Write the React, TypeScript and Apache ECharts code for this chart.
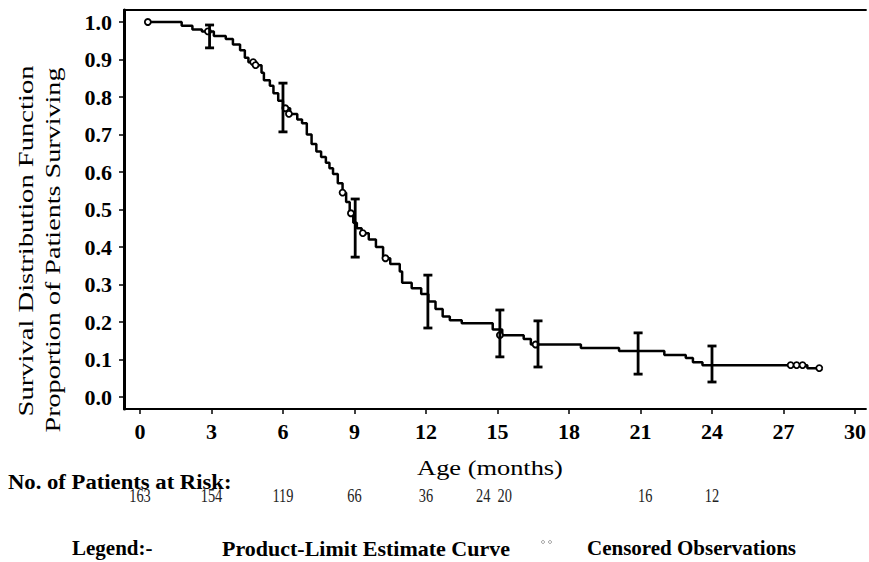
import React, { useEffect, useRef } from "react";
import * as echarts from "echarts";

const SERIF = '"Liberation Serif", "Times New Roman", serif';

// Product-limit (Kaplan-Meier) estimate: [age in months, proportion surviving] at each drop
const kmSteps: [number, number][] = [
  [0.33, 1.0], [1.75, 0.99], [2.2, 0.98], [2.6, 0.975], [3.1, 0.963], [3.6, 0.955],
  [3.9, 0.94], [4.2, 0.925], [4.4, 0.905], [4.55, 0.893], [4.9, 0.885], [5.1, 0.865],
  [5.2, 0.845], [5.45, 0.83], [5.6, 0.81], [5.8, 0.79], [6.0, 0.77], [6.3, 0.755],
  [6.6, 0.74], [6.8, 0.73], [7.0, 0.7], [7.2, 0.675], [7.4, 0.655], [7.6, 0.64],
  [7.8, 0.625], [7.95, 0.61], [8.1, 0.595], [8.3, 0.57], [8.5, 0.545], [8.65, 0.52],
  [8.8, 0.49], [8.95, 0.465], [9.1, 0.45], [9.3, 0.437], [9.6, 0.42], [9.9, 0.4],
  [10.2, 0.37], [10.5, 0.355], [10.9, 0.335], [11.0, 0.305], [11.4, 0.29], [11.8, 0.275],
  [12.1, 0.255], [12.4, 0.235], [12.7, 0.215], [13.0, 0.205], [13.5, 0.197], [14.8, 0.18],
  [15.2, 0.165], [16.1, 0.155], [16.4, 0.14], [18.5, 0.131], [20.1, 0.123], [22.0, 0.112],
  [22.9, 0.104], [23.2, 0.093], [23.6, 0.085], [28.0, 0.077], [28.5, 0.077],
];

// Censored observations: [age in months, proportion surviving]
const censored: [number, number][] = [
  [0.33, 1.0], [2.85, 0.975], [4.75, 0.893], [4.85, 0.885], [6.1, 0.77], [6.25, 0.755],
  [8.5, 0.545], [8.85, 0.49], [9.35, 0.437], [10.3, 0.37], [15.1, 0.165], [16.6, 0.14],
  [27.3, 0.085], [27.55, 0.085], [27.8, 0.085], [28.5, 0.077],
];

// Confidence limits: [age in months, lower, upper]
const confBars: [number, number, number][] = [
  [2.92, 0.931, 0.992], [6.0, 0.707, 0.837], [9.03, 0.373, 0.528], [12.08, 0.184, 0.325],
  [15.1, 0.107, 0.232], [16.7, 0.08, 0.203], [20.9, 0.061, 0.171], [24.0, 0.04, 0.136],
];

const xTicks = [0, 3, 6, 9, 12, 15, 18, 21, 24, 27, 30];
const yTicks = [0, 0.1, 0.2, 0.3, 0.4, 0.5, 0.6, 0.7, 0.8, 0.9, 1.0];

// Number of patients at risk, printed under the age axis
const riskMonths = [0, 3, 6, 9, 12, 14.4, 15.3, 21.2, 24];
const riskCounts = [163, 154, 119, 66, 36, 24, 20, 16, 12];

const X_MIN = -0.67;
const X_MAX = 30.46;
const Y_MIN = -0.032;
const Y_MAX = 1.032;

export default function App() {
  const ref = useRef<HTMLDivElement>(null);

  useEffect(() => {
    if (!ref.current) return;
    const chart = echarts.init(ref.current, null, { renderer: "svg" });

    const option: any = {
      animation: false,
      backgroundColor: "#fff",
      grid: { left: 124, right: 0, top: 10, bottom: 153, containLabel: false },
      xAxis: [
        {
          type: "value",
          min: X_MIN,
          max: X_MAX,
          axisLine: { show: true, onZero: false, lineStyle: { color: "#000", width: 2 } },
          axisTick: {
            show: true,
            length: 5,
            customValues: xTicks,
            lineStyle: { color: "#000", width: 1.5 },
          },
          axisLabel: {
            customValues: xTicks,
            color: "#000",
            fontFamily: SERIF,
            fontWeight: "bold",
            fontSize: 22,
            margin: 11,
            formatter: (v: number) => String(v),
          },
          splitLine: { show: false },
        },
        {
          type: "value",
          position: "top",
          min: X_MIN,
          max: X_MAX,
          axisLine: { show: true, onZero: false, lineStyle: { color: "#000", width: 2 } },
          axisTick: { show: false },
          axisLabel: { show: false },
          splitLine: { show: false },
        },
      ],
      yAxis: {
        type: "value",
        min: Y_MIN,
        max: Y_MAX,
        axisLine: { show: true, onZero: false, lineStyle: { color: "#000", width: 3 } },
        axisTick: {
          show: true,
          length: 5,
          customValues: yTicks,
          lineStyle: { color: "#000", width: 1.5 },
        },
        axisLabel: {
          customValues: yTicks,
          color: "#000",
          fontFamily: SERIF,
          fontWeight: "bold",
          fontSize: 22,
          margin: 12,
          formatter: (v: number) => v.toFixed(1),
        },
        splitLine: { show: false },
      },
      series: [
        {
          name: "Product-Limit Estimate Curve",
          type: "line",
          step: "end",
          data: kmSteps,
          showSymbol: false,
          lineStyle: { color: "#000", width: 2.5 },
          z: 3,
        },
        {
          name: "Censored Observations",
          type: "scatter",
          data: censored,
          symbol: "circle",
          symbolSize: 6,
          itemStyle: { color: "#fff", borderColor: "#000", borderWidth: 1.8, opacity: 1 },
          z: 4,
        },
        {
          name: "Confidence Limits",
          type: "custom",
          data: confBars,
          encode: { x: 0, y: [1, 2] },
          z: 5,
          renderItem: (_params: any, api: any) => {
            const t = api.value(0);
            const lo = api.coord([t, api.value(1)]);
            const hi = api.coord([t, api.value(2)]);
            const half = 4.5;
            const style = { stroke: "#000", lineWidth: 2.8 };
            return {
              type: "group",
              children: [
                { type: "line", shape: { x1: lo[0], y1: lo[1], x2: hi[0], y2: hi[1] }, style },
                { type: "line", shape: { x1: hi[0] - half, y1: hi[1], x2: hi[0] + half, y2: hi[1] }, style },
                { type: "line", shape: { x1: lo[0] - half, y1: lo[1], x2: lo[0] + half, y2: lo[1] }, style },
              ],
            };
          },
        },
      ],
    };

    chart.setOption(option);

    const textStyle = (text: string, size: number, weight: string, extra: any = {}) => ({
      text,
      fontFamily: SERIF,
      fontSize: size,
      fontWeight: weight,
      fill: "#000",
      ...extra,
    });

    const riskTexts = riskMonths.map((m, i) => {
      const px = chart.convertToPixel({ xAxisIndex: 0 }, m) as number;
      return {
        type: "text",
        x: px,
        y: 496,
        scaleX: 0.8,
        style: textStyle(String(riskCounts[i]), 18, "normal", {
          fill: "#222",
          align: "center",
          verticalAlign: "middle",
        }),
      };
    });

    chart.setOption({
      graphic: [
        {
          type: "text",
          x: 26,
          y: 241,
          rotation: Math.PI / 2,
          scaleX: 1.3,
          style: textStyle("Survival Distribution Function", 22, "normal", {
            align: "center",
            verticalAlign: "middle",
          }),
        },
        {
          type: "text",
          x: 52,
          y: 250,
          rotation: Math.PI / 2,
          scaleX: 1.28,
          style: textStyle("Proportion of Patients Surviving", 22, "normal", {
            align: "center",
            verticalAlign: "middle",
          }),
        },
        {
          type: "text",
          x: 490,
          y: 467,
          scaleX: 1.2,
          style: textStyle("Age (months)", 22, "normal", {
            align: "center",
            verticalAlign: "middle",
          }),
        },
        {
          type: "text",
          x: 8,
          y: 482,
          scaleX: 1.08,
          style: textStyle("No. of Patients at Risk:", 21, "bold", {
            align: "left",
            verticalAlign: "middle",
          }),
        },
        ...riskTexts,
        {
          type: "text",
          x: 72,
          y: 548,
          style: textStyle("Legend:-", 21, "bold", { align: "left", verticalAlign: "middle" }),
        },
        {
          type: "text",
          x: 222,
          y: 548,
          style: textStyle("Product-Limit Estimate Curve", 22, "bold", {
            align: "left",
            verticalAlign: "middle",
          }),
        },
        {
          type: "circle",
          shape: { cx: 543, cy: 542, r: 1.5 },
          style: { fill: "none", stroke: "#999", lineWidth: 1 },
        },
        {
          type: "circle",
          shape: { cx: 550, cy: 542, r: 1.5 },
          style: { fill: "none", stroke: "#999", lineWidth: 1 },
        },
        {
          type: "text",
          x: 587,
          y: 548,
          style: textStyle("Censored Observations", 21, "bold", {
            align: "left",
            verticalAlign: "middle",
          }),
        },
      ],
    });

    return () => chart.dispose();
  }, []);

  return (
    <div
      ref={ref}
      style={{ position: "fixed", left: 0, top: 0, width: 869, height: 562, background: "#fff" }}
    />
  );
}
